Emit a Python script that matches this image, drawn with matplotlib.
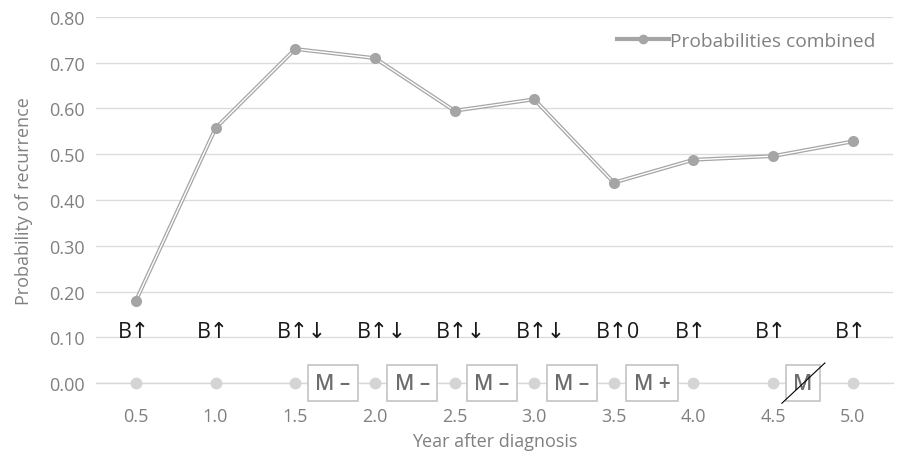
import numpy as np
import matplotlib
matplotlib.use('Agg')
import matplotlib.pyplot as plt
from matplotlib.lines import Line2D

plt.rcParams['font.family'] = ['Open Sans', 'DejaVu Sans']

years = ['0.5', '1.0', '1.5', '2.0', '2.5', '3.0', '3.5', '4.0', '4.5', '5.0']
prob_combined = [0.18, 0.557, 0.730, 0.710, 0.595, 0.620, 0.438, 0.488, 0.496, 0.528]
b_labels = ['B\u2191', 'B\u2191', 'B\u2191\u2193', 'B\u2191\u2193', 'B\u2191\u2193',
            'B\u2191\u2193', 'B\u21910', 'B\u2191', 'B\u2191', 'B\u2191']
# marker boxes sit just right of these categories
m_index = [2, 3, 4, 5, 6, 8]
m_labels = ['M \u2013', 'M \u2013', 'M \u2013', 'M \u2013', 'M +', 'M']
m_struck = [False, False, False, False, False, True]

grey = '#a5a5a5'
text_grey = '#808080'

fig = plt.figure(figsize=(8.98, 4.6), dpi=100)
ax = fig.add_axes([0.107, 0.165, 0.887, 0.796])

x = np.arange(len(years))
ax.plot(x, prob_combined, color=grey, lw=2.8, solid_joinstyle='miter', zorder=3)
ax.plot(x, prob_combined, color='white', lw=1.0, solid_joinstyle='miter', zorder=4)
ax.plot(x, prob_combined, 'o', color=grey, ms=8, mec='none', zorder=5)

# baseline series of zeros
ax.axhline(0, color='#d9d9d9', lw=1, zorder=1, clip_on=False)
ax.plot(x, np.zeros(len(x)), 'o', color='#d4d4d4', ms=8.5, mec='none', zorder=5, clip_on=False)

for i, lab in enumerate(b_labels):
    ax.text(i - 0.23, 0.1, lab, ha='left', va='baseline', fontsize=15.5, color='#1a1a1a')

for i, lab, struck in zip(m_index, m_labels, m_struck):
    ax.text(i + 0.25, 0.0, lab, ha='left', va='center', fontsize=15,
            color='#6d6d6d', fontweight='semibold', zorder=6, clip_on=False,
            bbox=dict(boxstyle='square,pad=0.35', fc='white', ec='#c4c4c4', lw=1.2))
    if struck:
        ax.plot([i + 0.11, i + 0.65], [-0.044, 0.044], color='black', lw=0.8,
                zorder=7, clip_on=False)

ax.set_xlim(-0.5, len(years) - 0.5)
ax.set_ylim(0, 0.8)
ax.set_yticks(np.arange(0, 0.81, 0.1))
ax.set_yticklabels([f'{v:.2f}' for v in np.arange(0, 0.81, 0.1)])
ax.set_xticks(x)
ax.set_xticklabels(years)
ax.tick_params(length=0, labelsize=13, colors=text_grey, pad=8)
ax.tick_params(axis='x', pad=17)
ax.grid(axis='y', color='#dcdcdc', lw=1)
ax.set_axisbelow(True)
for s in ax.spines.values():
    s.set_visible(False)

ax.set_xlabel('Year after diagnosis', fontsize=13, color=text_grey, labelpad=5)
ax.set_ylabel('Probability of recurrence', fontsize=13, color=text_grey, labelpad=12)

handle = Line2D([], [], color=grey, lw=3, marker='o', ms=7, mec='none')
ax.legend([handle], ['Probabilities combined'], loc='upper right', frameon=False,
          bbox_to_anchor=(0.995, 0.995), fontsize=13.8, labelcolor=text_grey,
          handlelength=2.7, handletextpad=0.05, borderaxespad=0.3)

fig.savefig('out.png', dpi=100)
